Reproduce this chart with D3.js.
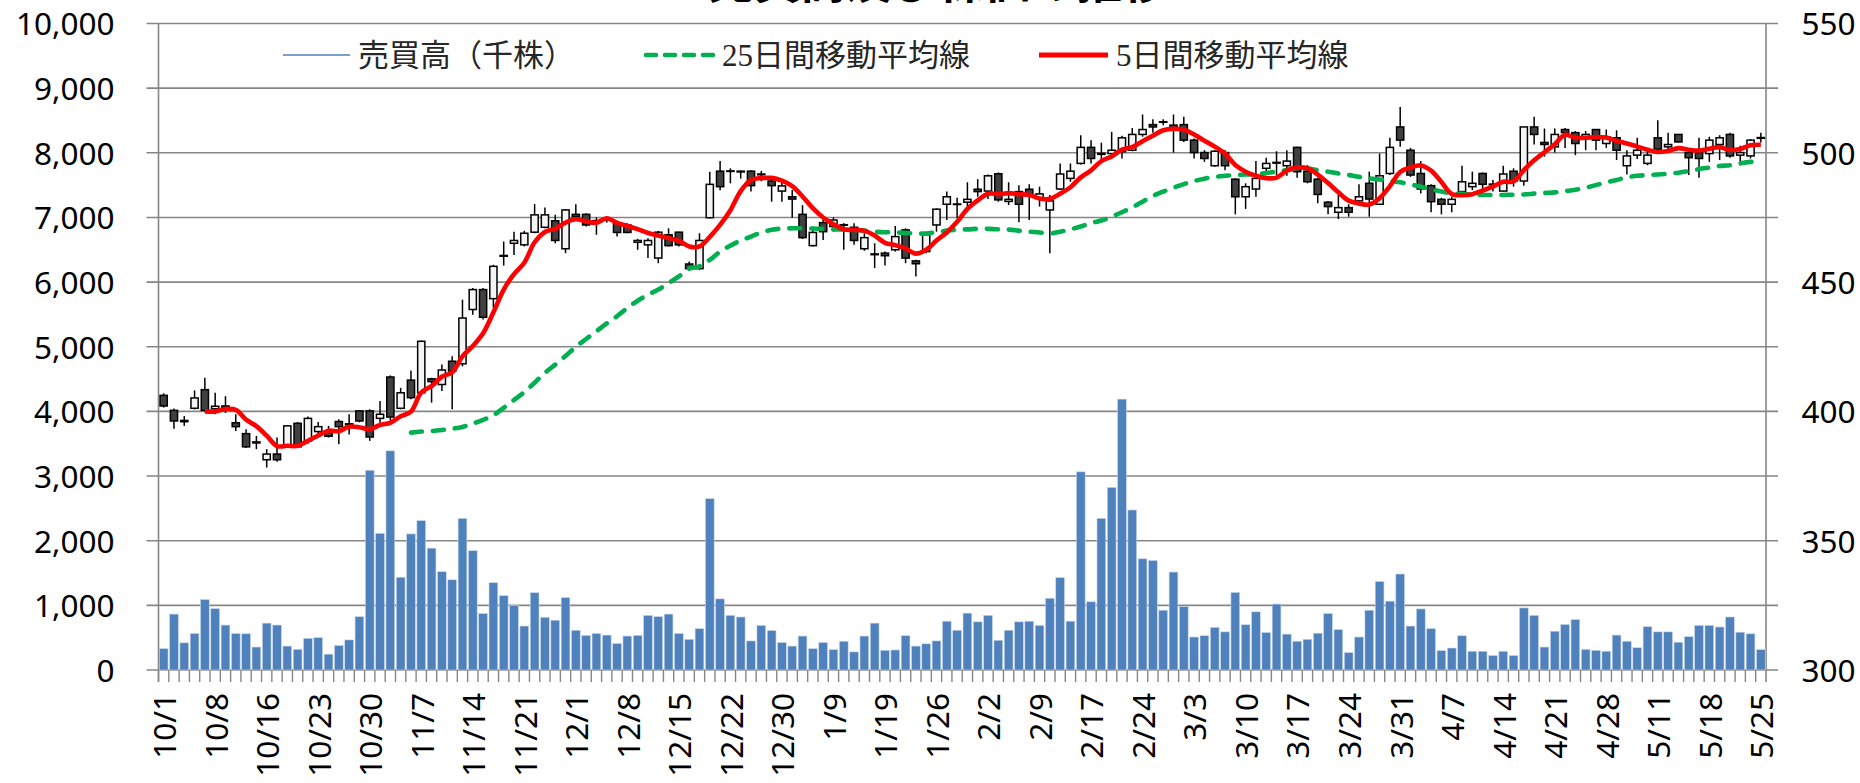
<!DOCTYPE html>
<html lang="ja">
<head>
  <meta charset="UTF-8">
  <title>売買高と株価</title>
  <style>
body { margin: 0; background: #ffffff; }
svg { display: block; }
.tick-label { font-family: "Noto Sans", Lato, sans-serif; font-size: 31.5px; fill: #000; }
.legend-text { font-family: "Liberation Serif", "Noto Sans CJK JP", serif; font-size: 31px; fill: #262626; }
.title { font-family: "Noto Sans CJK JP", sans-serif; font-size: 46px; font-weight: bold; fill: #000; }
  </style>
</head>
<body>
  <div id="chart"></div>
  <script src="https://d3js.org/d3.v7.min.js"></script>
  <script>
// trading days 2014/10/1 - 2015/5/25
const dates = [
  "10/1","10/2","10/3","10/6","10/7", "10/8","10/9","10/10","10/14","10/15",
  "10/16","10/17","10/20","10/21","10/22", "10/23","10/24","10/27","10/28","10/29",
  "10/30","10/31","11/4","11/5","11/6", "11/7","11/10","11/11","11/12","11/13",
  "11/14","11/17","11/18","11/19","11/20", "11/21","11/25","11/26","11/27","11/28",
  "12/1","12/2","12/3","12/4","12/5", "12/8","12/9","12/10","12/11","12/12",
  "12/15","12/16","12/17","12/18","12/19", "12/22","12/24","12/25","12/26","12/29",
  "12/30","1/5","1/6","1/7","1/8", "1/9","1/13","1/14","1/15","1/16",
  "1/19","1/20","1/21","1/22","1/23", "1/26","1/27","1/28","1/29","1/30",
  "2/2","2/3","2/4","2/5","2/6", "2/9","2/10","2/12","2/13","2/16",
  "2/17","2/18","2/19","2/20","2/23", "2/24","2/25","2/26","2/27","3/2",
  "3/3","3/4","3/5","3/6","3/9", "3/10","3/11","3/12","3/13","3/16",
  "3/17","3/18","3/19","3/20","3/23", "3/24","3/25","3/26","3/27","3/30",
  "3/31","4/1","4/2","4/3","4/6", "4/7","4/8","4/9","4/10","4/13",
  "4/14","4/15","4/16","4/17","4/20", "4/21","4/22","4/23","4/24","4/27",
  "4/28","4/30","5/1","5/7","5/8", "5/11","5/12","5/13","5/14","5/15",
  "5/18","5/19","5/20","5/21","5/22", "5/25"
];

// 売買高（千株）
const volume = [
  330, 865, 420, 565, 1090, 950, 695, 565, 560, 355,
  725, 695, 370, 320, 490, 500, 245, 380, 465, 825,
  3090, 2115, 3390, 1435, 2105, 2310, 1885, 1520, 1395, 2345,
  1845, 875, 1350, 1150, 1000, 680, 1195, 815, 770, 1120,
  615, 535, 565, 540, 410, 525, 535, 845, 825, 865,
  565, 475, 640, 2650, 1100, 845, 820, 450, 690, 610,
  425, 370, 525, 330, 425, 315, 445, 280, 525, 725,
  305, 310, 530, 370, 405, 450, 755, 615, 880, 745,
  845, 460, 615, 745, 755, 690, 1110, 1430, 755, 3065,
  1055, 2345, 2825, 4190, 2475, 1720, 1695, 925, 1515, 980,
  510, 530, 660, 590, 1200, 700, 900, 580, 1020, 555,
  445, 475, 570, 875, 625, 270, 510, 925, 1370, 1065,
  1485, 680, 945, 640, 300, 340, 530, 290, 290, 225,
  290, 225, 960, 845, 355, 600, 705, 780, 320, 305,
  290, 540, 445, 345, 670, 590, 590, 430, 515, 690,
  690, 665, 820, 585, 560, 315
];

// 株価（円）
const open = [
  406.2, 400.4, 396.5, 401.2, 408.4, 401.0, 402.1, 395.6, 391.4, 388.2,
  381.3, 383.5, 386.7, 395.4, 388.6, 392.2, 392.2, 396.1, 395.2, 400.2,
  400.2, 397.3, 413.3, 401.2, 412.1, 407.2, 412.6, 410.4, 419.4, 418.4,
  439.4, 447.1, 443.6, 460.3, 465.0, 464.4, 469.3, 471.2, 473.7, 462.9,
  476.2, 476.2, 473.8, 473.9, 473.0, 472.1, 465.4, 464.4, 459.3, 468.3,
  469.3, 457.0, 455.2, 474.9, 492.9, 493.0, 492.9, 492.9, 491.8, 489.1,
  485.2, 483.0, 476.2, 464.1, 473.0, 471.5, 472.2, 471.2, 462.9, 460.9,
  461.2, 462.5, 470.2, 458.2, 461.8, 472.1, 480.1, 480.2, 480.9, 485.9,
  485.2, 491.9, 481.2, 485.0, 485.9, 482.5, 477.9, 486.0, 490.1, 495.9,
  502.1, 499.8, 499.7, 500.4, 501.0, 507.1, 510.9, 512.0, 510.7, 510.9,
  504.9, 500.1, 495.0, 500.1, 489.8, 483.0, 486.0, 494.0, 496.3, 495.0,
  502.1, 492.9, 489.8, 480.9, 477.0, 478.8, 481.4, 488.2, 480.1, 492.0,
  510.0, 501.0, 492.0, 487.3, 482.0, 480.1, 485.0, 486.9, 492.0, 487.9,
  485.2, 492.9, 489.1, 510.0, 504.0, 502.3, 509.0, 507.8, 506.2, 509.0,
  503.6, 505.8, 495.0, 499.1, 495.9, 505.8, 502.3, 507.1, 500.1, 500.1,
  499.7, 503.2, 507.1, 499.1, 498.8, 505.6
];
const high = [
  407.0, 401.1, 398.2, 408.1, 413.0, 407.2, 405.9, 398.9, 393.1, 390.5,
  385.4, 389.9, 394.6, 395.9, 398.0, 395.9, 394.4, 397.0, 398.9, 400.5,
  400.8, 404.0, 413.9, 409.1, 415.8, 427.4, 413.0, 418.1, 421.3, 443.2,
  447.7, 447.7, 456.7, 465.7, 469.5, 469.8, 480.2, 478.8, 476.0, 478.2,
  480.1, 476.6, 475.0, 475.3, 473.7, 472.8, 466.7, 467.0, 469.8, 470.8,
  469.5, 458.0, 468.9, 492.7, 496.8, 494.0, 493.2, 493.3, 493.0, 490.1,
  488.8, 485.6, 479.8, 470.8, 474.7, 475.0, 472.8, 472.8, 468.9, 465.0,
  461.8, 471.7, 470.8, 458.6, 468.5, 478.5, 485.0, 482.6, 488.6, 489.8,
  491.6, 492.4, 488.6, 487.5, 487.8, 486.9, 483.7, 495.9, 495.9, 506.8,
  504.9, 503.9, 508.1, 506.6, 509.6, 514.8, 513.0, 513.0, 514.8, 513.9,
  505.5, 501.0, 501.0, 501.0, 490.1, 488.2, 496.8, 498.1, 500.6, 501.0,
  502.3, 495.2, 490.4, 481.4, 483.7, 480.1, 487.8, 492.7, 499.7, 505.8,
  517.7, 501.9, 496.8, 487.8, 482.6, 483.0, 495.0, 492.7, 492.4, 489.5,
  495.0, 494.0, 510.0, 513.9, 509.4, 509.4, 509.6, 508.4, 508.4, 509.1,
  509.0, 508.7, 501.0, 505.8, 501.0, 512.6, 507.8, 507.1, 501.0, 505.8,
  506.2, 506.8, 507.8, 502.7, 505.3, 507.8
];
const low = [
  401.5, 393.3, 394.4, 400.8, 399.9, 398.9, 399.4, 392.4, 385.8, 385.4,
  378.3, 380.5, 386.3, 385.8, 387.5, 390.1, 389.9, 387.3, 391.1, 395.8,
  388.6, 395.6, 396.3, 400.8, 404.7, 407.0, 403.4, 407.9, 400.8, 417.4,
  437.4, 435.5, 440.0, 456.4, 460.5, 463.8, 468.9, 470.8, 465.0, 461.2,
  474.9, 471.5, 468.3, 473.0, 467.6, 468.9, 462.5, 459.3, 457.3, 463.8,
  463.8, 454.5, 454.8, 474.7, 485.5, 488.2, 490.0, 485.0, 489.0, 481.1,
  481.1, 474.9, 466.7, 463.8, 466.3, 469.5, 462.5, 464.4, 462.1, 455.4,
  456.4, 461.8, 457.3, 452.2, 461.2, 469.5, 474.0, 474.7, 477.9, 483.0,
  482.1, 481.1, 479.8, 473.1, 474.0, 479.2, 461.2, 485.6, 488.8, 495.5,
  495.9, 497.2, 497.8, 497.8, 500.6, 506.2, 507.8, 510.7, 500.1, 504.2,
  497.8, 496.5, 494.6, 493.3, 476.2, 478.3, 483.0, 492.0, 491.4, 491.1,
  490.4, 488.2, 480.5, 476.2, 474.4, 475.3, 479.6, 475.3, 479.8, 491.4,
  502.3, 490.7, 484.3, 477.0, 476.2, 477.0, 484.3, 485.6, 486.0, 485.0,
  485.0, 486.9, 487.3, 503.2, 498.5, 500.1, 501.9, 499.1, 501.0, 501.0,
  501.9, 497.2, 491.6, 497.6, 495.2, 501.0, 501.0, 504.0, 491.4, 490.4,
  496.5, 497.2, 498.1, 495.2, 497.8, 504.0
];
const close = [
  402.1, 396.3, 396.0, 405.2, 400.4, 402.0, 401.1, 394.1, 386.3, 387.8,
  383.5, 381.3, 394.4, 386.3, 397.3, 394.1, 390.4, 394.1, 394.8, 396.3,
  390.1, 398.9, 397.8, 407.2, 405.3, 427.1, 411.5, 416.0, 415.6, 436.1,
  447.1, 436.4, 456.1, 460.0, 466.1, 468.9, 476.0, 476.0, 466.1, 477.9,
  475.3, 472.1, 473.5, 474.5, 469.2, 469.2, 466.1, 466.1, 469.3, 464.1,
  464.4, 455.2, 466.1, 487.8, 486.9, 492.8, 492.6, 487.3, 491.5, 487.3,
  487.2, 482.1, 467.2, 469.2, 469.5, 474.0, 472.0, 466.1, 467.2, 460.6,
  460.2, 467.6, 459.3, 457.1, 468.3, 478.2, 483.0, 480.0, 482.0, 485.0,
  491.1, 481.8, 482.0, 480.1, 483.4, 484.1, 481.4, 491.8, 492.9, 502.1,
  497.8, 499.4, 501.0, 505.8, 507.1, 509.0, 510.0, 511.8, 508.7, 504.9,
  500.1, 497.8, 500.6, 495.0, 483.0, 486.9, 490.1, 495.9, 496.0, 496.8,
  492.7, 488.8, 483.9, 479.2, 478.8, 477.0, 483.0, 482.1, 491.1, 502.1,
  504.9, 491.4, 486.0, 481.1, 480.1, 482.0, 488.8, 488.2, 487.8, 487.6,
  491.8, 489.1, 510.0, 507.1, 503.2, 507.1, 507.8, 503.6, 507.1, 504.9,
  506.2, 501.0, 498.8, 501.0, 499.1, 501.4, 503.2, 504.2, 498.1, 497.8,
  504.9, 505.8, 498.8, 500.1, 504.9, 505.9
];

// 5日間移動平均線
const ma5 = [
  null, null, null, null, 400.0, 400.0, 400.9, 400.6, 396.8, 394.3,
  390.6, 386.6, 386.7, 386.7, 388.6, 390.7, 392.5, 392.4, 394.1, 393.9,
  393.1, 394.8, 395.6, 398.1, 399.9, 407.3, 409.8, 413.4, 415.1, 421.3,
  425.3, 430.2, 438.3, 447.1, 453.1, 457.5, 465.4, 469.4, 470.6, 473.0,
  474.3, 473.5, 473.0, 474.7, 472.9, 471.7, 470.5, 469.0, 468.0, 467.0,
  466.0, 463.8, 463.8, 467.5, 472.1, 477.8, 485.2, 489.5, 490.2, 490.3,
  489.2, 487.1, 483.1, 478.6, 475.0, 472.4, 470.4, 470.2, 469.8, 468.0,
  465.2, 464.3, 463.0, 461.0, 462.5, 466.1, 469.2, 473.3, 478.3, 481.6,
  484.2, 484.0, 484.4, 484.0, 483.7, 482.3, 482.2, 484.2, 486.7, 490.5,
  493.2, 496.8, 498.6, 501.2, 502.2, 504.5, 506.6, 508.7, 509.3, 508.9,
  507.1, 504.7, 502.4, 499.7, 495.3, 492.7, 491.1, 490.2, 490.4, 493.1,
  494.3, 494.0, 491.6, 488.3, 484.7, 481.5, 480.4, 480.0, 482.4, 487.1,
  492.6, 494.3, 495.1, 493.1, 488.7, 484.1, 483.6, 484.0, 485.4, 486.9,
  488.8, 488.9, 493.3, 497.1, 500.2, 503.3, 507.0, 505.8, 505.8, 506.1,
  505.9, 504.6, 503.6, 502.4, 501.2, 500.3, 500.7, 501.8, 501.2, 500.9,
  501.6, 502.2, 501.1, 501.5, 502.9, 503.1
];

// 25日間移動平均線
const ma25 = [
  null, null, null, null, null, null, null, null, null, null,
  null, null, null, null, null, null, null, null, null, null,
  null, null, null, null, 391.8, 392.2, 392.4, 392.8, 393.3, 394.0,
  395.3, 396.7, 398.5, 401.4, 404.4, 407.5, 411.1, 414.9, 418.1, 421.4,
  425.0, 428.0, 431.0, 434.0, 436.8, 440.0, 442.8, 445.1, 447.1, 449.6,
  452.2, 455.2, 456.1, 458.6, 461.8, 464.1, 466.1, 467.6, 469.2, 470.2,
  470.7, 470.8, 470.8, 470.7, 470.6, 470.4, 470.3, 470.2, 469.9, 469.5,
  469.3, 469.2, 469.0, 468.8, 468.8, 469.3, 469.9, 470.3, 470.4, 470.6,
  470.6, 470.4, 470.3, 469.9, 469.5, 469.2, 468.8, 469.5, 470.4, 471.5,
  472.8, 473.8, 475.3, 477.0, 478.9, 481.1, 483.3, 485.0, 486.5, 487.9,
  489.1, 490.0, 490.7, 491.1, 491.4, 491.6, 491.8, 492.2, 492.7, 493.3,
  494.0, 494.0, 493.3, 492.7, 492.0, 491.4, 490.7, 490.1, 489.7, 489.1,
  488.6, 487.8, 486.9, 485.9, 485.0, 484.3, 484.1, 483.9, 483.7, 483.7,
  483.7, 483.8, 483.9, 484.2, 484.5, 484.7, 485.2, 485.7, 486.5, 487.5,
  488.6, 489.5, 490.5, 491.1, 491.4, 491.6, 491.9, 492.3, 492.9, 493.7,
  494.3, 494.9, 495.2, 495.9, 496.5, 496.9
];

const volTicks = d3.range(0, 10001, 1000);
const priceTicks = d3.range(300, 551, 50);

const width = 1860;
const height = 783;
const plotL = 158.5, plotR = 1766, plotT = 23.5, plotB = 670;
const gridColor = "#868686";

const svg = d3.select("#chart").append("svg")
  .attr("width", width)
  .attr("height", height);

const x = d3.scaleBand()
  .domain(d3.range(dates.length))
  .range([plotL, plotR]);
const bw = x.bandwidth();

const yVol = d3.scaleLinear().domain([0, 10000]).range([plotB, plotT]);
const yPx = d3.scaleLinear().domain([300, 550]).range([plotB, plotT]);

// title sits mostly above the picture, only its bottom edge shows
svg.append("text")
  .attr("class", "title")
  .attr("x", 938)
  .attr("y", -2.5)
  .attr("text-anchor", "middle")
  .text("売買高及び株価の推移");

// horizontal grid (also acts as tick marks on both sides)
svg.append("g")
  .selectAll("line")
  .data(volTicks)
  .join("line")
  .attr("x1", plotL - 12)
  .attr("x2", plotR + 12)
  .attr("y1", d => yVol(d))
  .attr("y2", d => yVol(d))
  .attr("stroke", gridColor)
  .attr("stroke-width", 1.6);

// left axis
const axL = svg.append("g")
  .attr("transform", `translate(${plotL},0)`)
  .call(d3.axisLeft(yVol).tickValues(volTicks).tickFormat(d3.format(",")).tickSize(0).tickPadding(44));
axL.select(".domain").remove();
axL.selectAll("text").attr("class", "tick-label").attr("dy", "0.36em");

// right axis
const axR = svg.append("g")
  .attr("transform", `translate(${plotR},0)`)
  .call(d3.axisRight(yPx).tickValues(priceTicks).tickSize(0).tickPadding(35.5));
axR.select(".domain").remove();
axR.selectAll("text").attr("class", "tick-label").attr("dy", "0.36em");

// vertical axis lines
svg.append("line")
  .attr("x1", plotL).attr("x2", plotL)
  .attr("y1", plotT).attr("y2", plotB + 12)
  .attr("stroke", gridColor).attr("stroke-width", 1.6);
svg.append("line")
  .attr("x1", plotR).attr("x2", plotR)
  .attr("y1", plotT).attr("y2", plotB + 12)
  .attr("stroke", gridColor).attr("stroke-width", 1.6);

// category ticks under the x axis
svg.append("g")
  .selectAll("line")
  .data(d3.range(dates.length))
  .join("line")
  .attr("x1", d => x(d))
  .attr("x2", d => x(d))
  .attr("y1", plotB)
  .attr("y2", plotB + 12)
  .attr("stroke", gridColor)
  .attr("stroke-width", 1.4);

// x labels, one a week
svg.append("g")
  .selectAll("text")
  .data(d3.range(dates.length).filter(i => i % 5 === 0))
  .join("text")
  .attr("class", "tick-label")
  .attr("text-anchor", "end")
  .attr("dy", "0.36em")
  .attr("transform", d => `translate(${x(d) + bw / 2 + 1},693) rotate(-90)`)
  .text(d => dates[d]);

// volume bars
const barW = bw * 0.85;
svg.append("g")
  .selectAll("rect")
  .data(volume)
  .join("rect")
  .attr("x", (d, i) => x(i) + (bw - barW) / 2)
  .attr("width", barW)
  .attr("y", d => yVol(d))
  .attr("height", d => plotB - yVol(d))
  .attr("fill", "#4f81bd")
  .attr("stroke", "#c9d7ea")
  .attr("stroke-width", 0.6);

// candles
const candles = svg.append("g")
  .selectAll("g")
  .data(d3.range(dates.length))
  .join("g");

candles.append("line")
  .attr("x1", i => x(i) + bw / 2)
  .attr("x2", i => x(i) + bw / 2)
  .attr("y1", i => yPx(high[i]))
  .attr("y2", i => yPx(low[i]))
  .attr("stroke", "#000")
  .attr("stroke-width", 1.5);

const bodyW = 7.2;
candles.append("rect")
  .attr("x", i => x(i) + (bw - bodyW) / 2)
  .attr("width", bodyW)
  .attr("y", i => yPx(Math.max(open[i], close[i])))
  .attr("height", i => Math.max(0.01, Math.abs(yPx(open[i]) - yPx(close[i]))))
  .attr("fill", i => close[i] >= open[i] ? "#f4f4f4" : "#404040")
  .attr("stroke", "#000")
  .attr("stroke-width", 1.5);

// moving averages
const line = d3.line()
  .defined(d => d != null)
  .x((d, i) => x(i) + bw / 2)
  .y(d => yPx(d))
  .curve(d3.curveCatmullRom);

svg.append("path")
  .attr("d", line(ma25))
  .attr("fill", "none")
  .attr("stroke", "#00b050")
  .attr("stroke-width", 4.6)
  .attr("stroke-linecap", "round")
  .attr("stroke-dasharray", "11,11");

svg.append("path")
  .attr("d", line(ma5))
  .attr("fill", "none")
  .attr("stroke", "#ff0000")
  .attr("stroke-width", 4.6)
  .attr("stroke-linejoin", "round");

// legend
const legend = [
  { name: "売買高（千株）", color: "#4f81bd", w: 1.3, dash: null, x1: 283, x2: 350, tx: 358 },
  { name: "25日間移動平均線", color: "#00b050", w: 4.6, dash: "10,9", x1: 646, x2: 714, tx: 722 },
  { name: "5日間移動平均線", color: "#ff0000", w: 4.8, dash: null, x1: 1039, x2: 1108, tx: 1116 }
];
const lg = svg.append("g")
  .selectAll("g")
  .data(legend)
  .join("g");
lg.append("line")
  .attr("x1", d => d.x1).attr("x2", d => d.x2)
  .attr("y1", 55).attr("y2", 55)
  .attr("stroke", d => d.color)
  .attr("stroke-width", d => d.w)
  .attr("stroke-linecap", d => d.dash ? "round" : "butt")
  .attr("stroke-dasharray", d => d.dash);
lg.append("text")
  .attr("class", "legend-text")
  .attr("x", d => d.tx)
  .attr("y", 66)
  .text(d => d.name);
  </script>
</body>
</html>
